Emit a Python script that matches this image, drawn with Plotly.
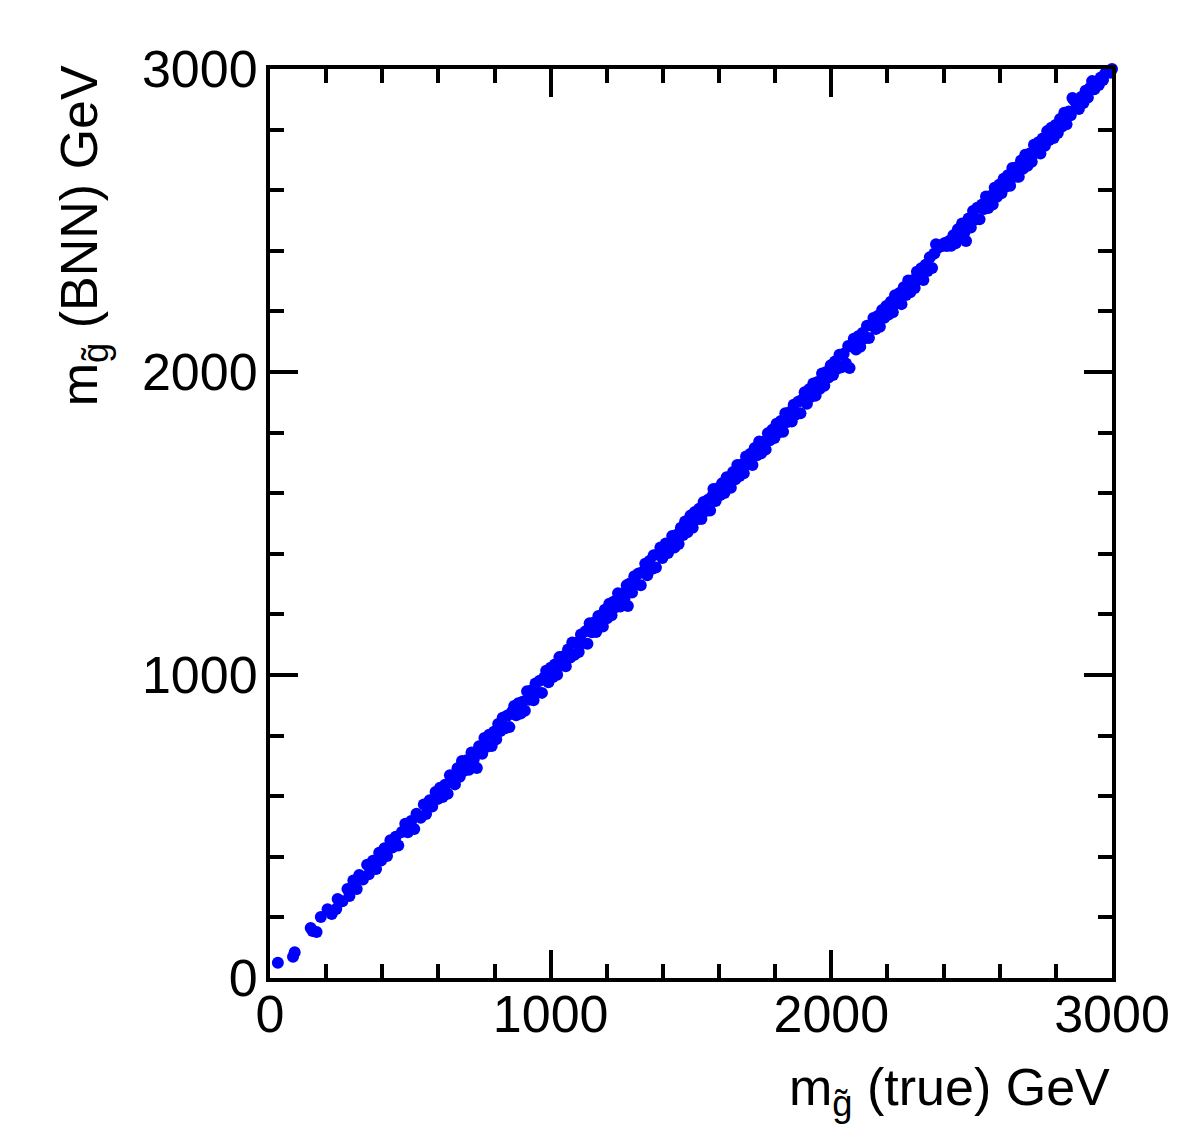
import plotly.graph_objects as go

# true gluino mass (GeV)
m_true = [
    28, 82, 88, 145, 152, 166, 181,
    205, 220, 236, 241, 258, 276, 283, 297, 309, 318, 331, 346, 352, 367, 378, 389, 396,
    408, 417, 429, 436, 448, 457, 470, 482, 491, 503, 514, 522, 537, 548, 556, 569, 578, 590, 597,
    606, 615, 624, 633, 641, 650, 659, 668, 676, 684, 692, 701, 709, 718, 726, 737, 745, 756, 764, 773, 781, 790, 798,
    806, 813, 821, 829, 838, 846, 853, 862, 870, 877, 885, 893, 900, 908, 916, 923, 931, 939, 946, 954, 961, 969, 977, 984, 992,
    1000, 1008, 1015, 1023, 1031, 1039, 1046, 1054, 1062, 1070, 1077, 1085, 1093, 1100, 1108, 1116, 1124, 1131, 1139, 1147, 1155, 1162, 1170, 1178, 1186, 1193,
    1201, 1209, 1217, 1224, 1232, 1240, 1248, 1255, 1263, 1271, 1275, 1282, 1290, 1298, 1306, 1313, 1321, 1329, 1337, 1344, 1352, 1360, 1367, 1375, 1383, 1391, 1398,
    1406, 1410, 1418, 1426, 1433, 1441, 1449, 1456, 1464, 1472, 1479, 1487, 1495, 1498, 1506, 1514, 1522, 1529, 1537, 1545, 1553, 1560, 1568, 1576, 1580, 1588, 1596,
    1604, 1611, 1619, 1627, 1634, 1642, 1650, 1658, 1665, 1673, 1681, 1688, 1696, 1704, 1712, 1719, 1727, 1735, 1743, 1750, 1758, 1766, 1774, 1781, 1789, 1797,
    1805, 1812, 1820, 1828, 1836, 1843, 1851, 1859, 1866, 1874, 1882, 1890, 1897, 1905, 1913, 1921, 1928, 1936, 1944, 1951, 1959, 1967, 1975, 1982, 1990, 1998,
    2006, 2013, 2021, 2029, 2036, 2044, 2052, 2060, 2065, 2072, 2080, 2088, 2096, 2103, 2111, 2119, 2127, 2134, 2142, 2150, 2158, 2165, 2173, 2181, 2189, 2196,
    2204, 2212, 2219, 2227, 2235, 2243, 2250, 2258, 2266, 2274, 2281, 2289, 2297, 2305, 2312, 2320, 2328, 2336, 2343, 2351, 2359, 2367, 2373, 2380, 2388, 2396,
    2404, 2412, 2420, 2427, 2435, 2443, 2451, 2458, 2466, 2474, 2480, 2489, 2497, 2505, 2513, 2520, 2528, 2536, 2544, 2551, 2559, 2567, 2575, 2582, 2590, 2598,
    2606, 2614, 2621, 2629, 2637, 2645, 2652, 2660, 2668, 2676, 2683, 2691, 2699, 2707, 2714, 2722, 2730, 2738, 2745, 2753, 2761, 2769, 2776, 2784, 2792, 2799,
    2807, 2815, 2822, 2830, 2838, 2846, 2853, 2859, 2866, 2874, 2882, 2890, 2898, 2906, 2914, 2921, 2929, 2937, 2945, 2953, 2960, 2968, 2976, 2986, 2994, 3000,
]

# BNN-predicted gluino mass (GeV)
m_bnn = [
    50, 70, 85, 165, 155, 152, 201,
    227, 211, 228, 261, 253, 294, 271, 322, 294, 340, 325, 374, 342, 387, 360, 413, 388,
    428, 403, 455, 431, 466, 437, 482, 509, 481, 518, 492, 542, 529, 573, 541, 587, 566, 614, 591,
    628, 597, 638, 608, 669, 655, 639, 692, 664, 716, 684, 719, 687, 744, 721, 693, 765, 740, 792, 763, 803, 766, 813,
    788, 838, 815, 859, 824, 866, 828, 878, 898, 867, 907, 873, 912, 882, 946, 918, 949, 917, 972, 942, 981, 941, 992, 1014, 976,
    1024, 993, 1035, 1001, 1059, 1031, 1062, 1029, 1084, 1058, 1107, 1067, 1107, 1076, 1134, 1106, 1144, 1103, 1171, 1141, 1173, 1142, 1195, 1188, 1160, 1215,
    1187, 1235, 1197, 1242, 1224, 1270, 1226, 1269, 1251, 1296, 1228, 1302, 1272, 1326, 1300, 1335, 1296, 1341, 1367, 1329, 1376, 1350, 1395, 1355, 1399, 1421, 1386,
    1424, 1434, 1403, 1434, 1459, 1421, 1463, 1432, 1486, 1462, 1507, 1471, 1507, 1526, 1486, 1538, 1514, 1549, 1515, 1571, 1541, 1578, 1543, 1591, 1614, 1574, 1616,
    1594, 1633, 1601, 1653, 1639, 1618, 1670, 1646, 1693, 1657, 1695, 1666, 1721, 1696, 1730, 1693, 1749, 1725, 1771, 1732, 1770, 1744, 1798, 1775, 1809, 1782,
    1829, 1800, 1838, 1803, 1864, 1835, 1867, 1837, 1892, 1860, 1902, 1864, 1909, 1933, 1895, 1943, 1918, 1962, 1922, 1967, 1945, 1995, 1955, 2000, 1982, 2022,
    1990, 2035, 2011, 2057, 2016, 2060, 2028, 2086, 2013, 2084, 2110, 2074, 2118, 2083, 2129, 2111, 2153, 2112, 2156, 2178, 2142, 2185, 2149, 2205, 2179, 2218,
    2190, 2232, 2197, 2253, 2227, 2261, 2224, 2280, 2254, 2302, 2263, 2303, 2277, 2331, 2306, 2342, 2304, 2354, 2333, 2379, 2343, 2391, 2422, 2410, 2418, 2416,
    2426, 2416, 2432, 2417, 2451, 2425, 2471, 2450, 2490, 2460, 2432, 2507, 2477, 2531, 2503, 2542, 2504, 2552, 2538, 2579, 2541, 2581, 2553, 2608, 2578, 2618,
    2590, 2638, 2611, 2649, 2615, 2673, 2644, 2676, 2644, 2698, 2671, 2717, 2681, 2721, 2694, 2750, 2724, 2758, 2721, 2771, 2747, 2795, 2766, 2806, 2772, 2815,
    2789, 2835, 2810, 2856, 2818, 2860, 2847, 2904, 2896, 2882, 2868, 2908, 2888, 2928, 2906, 2937, 2960, 2933, 2955, 2947, 2972, 2964, 2986, 2993, 2988, 3000,
]

assert len(m_true) == len(m_bnn)

tick_vals = [0, 1000, 2000, 3000]
tick_text = ["0", "1000", "2000", "3000"]

FONT = "Liberation Sans, Arial, Helvetica, sans-serif"

W, H = 1182, 1124
PL, PR, PT, PB = 270, 1120, 69, 978  # plot area in page pixels

fig = go.Figure()
fig.add_trace(go.Scatter(
    x=m_true, y=m_bnn, mode="markers",
    marker=dict(color="#0000ff", size=12, line=dict(width=0)),
    cliponaxis=False, showlegend=False,
))

axis_common = dict(
    range=[0, 3000],
    tickvals=tick_vals, ticktext=tick_text,
    ticks="inside", ticklen=28, tickwidth=4, tickcolor="black",
    minor=dict(dtick=200, ticks="inside", ticklen=14, tickwidth=4, tickcolor="black"),
    showline=True, linewidth=4, linecolor="black", mirror="allticks",
    showgrid=False, zeroline=False,
    tickfont=dict(family=FONT, size=52, color="black"),
)

def px_x(p):
    return (p - PL) / (PR - PL)

def px_y(p):
    return (PB - p) / (PB - PT)

fig.update_layout(
    width=W, height=H,
    margin=dict(l=PL, r=W - PR, t=PT, b=H - PB),
    paper_bgcolor="white", plot_bgcolor="white",
    xaxis=dict(**axis_common, ticklabelstandoff=-12),
    yaxis=dict(**axis_common, ticklabelstandoff=-2),
    annotations=[
        dict(text="m<sub>g\u0303</sub> (true) GeV", xref="paper", yref="paper",
             x=px_x(1120), y=px_y(1056), xanchor="right", yanchor="top",
             showarrow=False, font=dict(family=FONT, size=52, color="black")),
        dict(text="m<sub>g\u0303</sub> (BNN) GeV", xref="paper", yref="paper",
             x=px_x(82), y=px_y(63), xanchor="center", yanchor="top",
             textangle=-90,
             showarrow=False, font=dict(family=FONT, size=52, color="black")),
    ],
)

fig.write_html("out.html",
               config={"displayModeBar": False},
               post_script="document.body.style.margin='0px';document.body.style.overflow='hidden';")
